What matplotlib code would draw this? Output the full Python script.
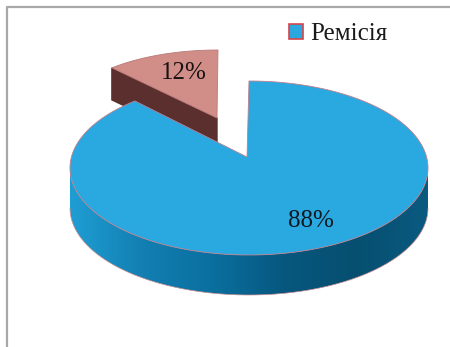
import numpy as np
import matplotlib
matplotlib.use("Agg")
import matplotlib.pyplot as plt
from matplotlib.colors import LinearSegmentedColormap
from matplotlib.patches import Patch, Polygon

# Chart data
labels = ["Ремісія", ""]
values = [88, 12]
label_texts = ["88%", "12%"]

plt.rcParams['font.family'] = ['Liberation Serif', 'DejaVu Serif']

# Pie geometry in image pixels
cx, cy = 249, 168
rx, ry = 179, 87
depth = 40
apex = (247, 157)
view_skew = np.radians(3.6)  # the 3D view opens the big slice a bit more
slice_cx, slice_cy = 218, 116
slice_rx, slice_ry = 155, 66
slice_apex = (217, 118)
slice_depth = 32

side_cmap = LinearSegmentedColormap.from_list(
    "side", ["#1f9ed4", "#137fb2", "#0a6f9f", "#07577e", "#064f70", "#0a5a80"])

fig = plt.figure(figsize=(4.5, 3.47), dpi=100)
ax = fig.add_axes([0, 0, 1, 1])

# frame
ax.plot([7, 7, 450], [347, 7, 7], color="#a8a8a8", lw=1.6, zorder=1)

# angles clockwise from the top, taken from the values
share = np.array(values) / sum(values) * 2 * np.pi
start = np.pi / 2
end_main = start - share[0] - view_skew
end_slice = end_main - share[1] + view_skew

def rim(t):
    return cx + rx * np.cos(t), cy - ry * np.sin(t)

# exploded slice, side then top
t = np.linspace(end_main + view_skew, end_slice, 60)
xs = slice_cx + slice_rx * np.cos(t)
ys = slice_cy - slice_ry * np.sin(t)
lx, ly = xs[0], ys[0]
ax.fill([slice_apex[0], lx, lx, slice_apex[0]],
        [slice_apex[1], ly, ly + slice_depth, slice_apex[1] + slice_depth],
        color="#5b2f2e", zorder=2)
ax.fill(np.r_[slice_apex[0], xs], np.r_[slice_apex[1], ys],
        facecolor="#d18e88", edgecolor="#b87a78", lw=0.6, zorder=3)

# main slice side: horizontal gradient clipped to the front band
t = np.linspace(-np.pi, 0, 181)
xb, yb = rim(t)
band = Polygon(np.c_[np.r_[xb, xb[::-1]], np.r_[yb, yb[::-1] + depth]], closed=True,
               facecolor="none", edgecolor="none")
ax.add_patch(band)
im = ax.imshow(np.linspace(0, 1, 256).reshape(1, -1), cmap=side_cmap, aspect="auto",
               extent=[xb.min(), xb.max(), yb.max() + depth, yb.min()], zorder=4)
im.set_clip_path(band)
ax.plot(xb, yb + depth, color="#c98a90", lw=0.5, zorder=5)

# main slice top
t = np.linspace(start, end_main, 300)
xs, ys = rim(t)
ax.fill(np.r_[apex[0], xs], np.r_[apex[1], ys], facecolor="#29a9e0",
        edgecolor="#c07f8c", lw=0.6, zorder=6)

ax.text(311, 221, label_texts[0], fontsize=18, ha="center", va="center", color="#101820", zorder=7)
ax.text(184, 73, label_texts[1], fontsize=18, ha="center", va="center", color="#1a1212", zorder=7)

ax.set_xlim(0, 450)
ax.set_ylim(347, 0)
ax.axis("off")

ax.legend(handles=[Patch(facecolor="#29a9e0", edgecolor="#d8434a", lw=1.2, label=labels[0])],
          loc="upper left", bbox_to_anchor=(289 / 450, 1 - 23 / 347), frameon=False,
          fontsize=18, handlelength=0.55, handleheight=0.55, handletextpad=0.3,
          borderpad=0, borderaxespad=0, labelcolor="#1a1a1a")

fig.savefig("out.png", dpi=100)
